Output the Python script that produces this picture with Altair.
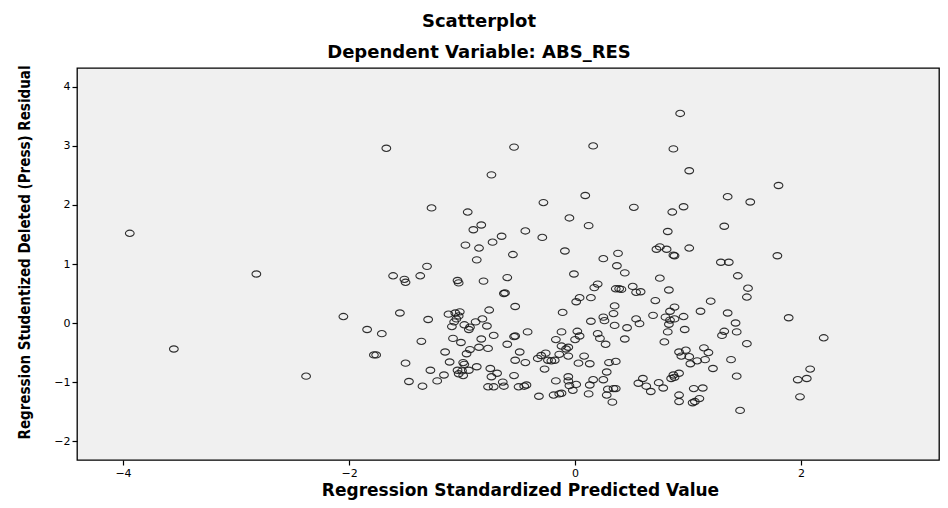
import altair as alt
import pandas as pd

xs = [
    -3.94, -3.55, -2.82, -2.38,
    -1.67, -0.54, 0.16, -0.74, -1.27, -0.95, -0.28, 0.09, -0.05, 0.12, -0.83, -0.90, -0.44, -0.65, -0.73, -0.29, -0.97, -0.85, -0.55, -0.09, 0.25, 0.38, -0.87,
    0.93, 0.87, 1.01, 1.80, 1.35, 1.55, 0.52, 0.96, 0.86, 1.32, 0.82, 0.75, 0.72, 0.81, 1.01, 0.87, 0.88, 1.79, 1.29, 1.36,
    0.37, -1.31, -1.61, -1.51, -1.50, -1.37, -1.04, -1.03, -0.81, -0.60, -0.01, 0.20, 0.17, 0.36, 0.39, -0.63, -0.62, 0.04, 0.01, 0.14, -0.53, 0.35,
    -2.05, -1.55, -1.30, -1.84, -1.71, -1.78, -1.76, -1.36, -1.50, -1.47, -1.35, -1.22, -1.16, -1.28, -1.15, -1.11, -1.08, -1.01,
    -1.12, -1.06, -1.02, -1.03, -1.05, -1.09, -1.07, -0.98, -0.93, -0.94, -0.88, -0.82, -0.76, -0.78, -0.83, -0.72, -0.85, -0.77, -0.93, -0.96,
    -0.60, -0.54, -0.53, -0.42, -0.49, -0.53, -0.44, -0.99, -0.98, -1.00, -1.03, -0.99, -1.04, -0.94, -0.87, -0.75, -0.74, -0.69, -0.54,
    -0.77, -0.72, -0.64, -0.63, -0.50, -0.45, -0.43, -0.32, -0.19, -0.14, -0.12, -0.17, -0.06, -0.06, -0.05, 0.01, -0.02, 0.13, 0.16, 0.12,
    0.25, 0.28, 0.29, 0.34, 0.36, 0.28, 0.33, -0.27, -0.33, -0.30, -0.26, -0.24, -0.18, -0.14, -0.21, -0.12, -0.08, -0.06, -0.06,
    -0.12, -0.17, 0.02, 0.04, 0.00, 0.08, 0.03, 0.13, -0.11, 0.14, 0.25, 0.26, 0.34, 0.35, 0.20, 0.22, 0.27, 0.30, 0.36,
    1.44, 0.44, 0.75, 0.41, 0.51, 0.54, 0.58, 0.83, 1.53, 1.52, 0.71, 1.20, 0.69, 0.54, 0.57, 0.46, 0.80, 0.84, 0.88, 0.84, 0.88, 0.83, 0.82,
    0.96, 0.97, 1.11, 1.35, 1.42, 1.32, 1.30, 1.43, 1.52, 1.89, 2.20, 0.44, 0.79, 0.92, 0.98, 0.94, 1.01, 1.08, 1.02, 1.14, 1.18, 1.15,
    1.22, 1.38, 1.43, 0.60, 0.56, 0.63, 0.67, 0.74, 0.78, 0.85, 0.87, 0.92, 0.88, 0.92, 0.92, 1.04, 1.06, 1.10, 1.05, 1.13, 1.46,
    2.08, 2.05, 1.97, 1.99,
]
ys = [
    1.52, -0.44, 0.83, -0.90,
    2.96, 2.98, 3.00, 2.51, 1.95, 1.88, 2.04, 2.16, 1.78, 1.65, 1.66, 1.58, 1.56, 1.47, 1.37, 1.45, 1.32, 1.27, 1.16, 1.22, 1.09, 1.18, 1.07,
    3.55, 2.95, 2.58, 2.33, 2.14, 2.05, 1.96, 1.97, 1.88, 1.64, 1.55, 1.29, 1.25, 1.25, 1.27, 1.15, 1.14, 1.14, 1.03, 1.03,
    0.97, 0.96, 0.80, 0.74, 0.69, 0.80, 0.72, 0.68, 0.71, 0.77, 0.83, 0.66, 0.60, 0.58, 0.58, 0.50, 0.51, 0.43, 0.36, 0.43, 0.28, 0.29,
    0.11, 0.17, 0.06, -0.11, -0.18, -0.54, -0.54, -0.31, -0.68, -0.99, -1.07, -0.98, -0.88, -0.80, -0.49, -0.66, -0.26, -0.33,
    0.15, 0.17, 0.19, 0.12, 0.07, -0.06, 0.02, -0.03, -0.07, -0.11, 0.02, 0.07, 0.22, -0.05, -0.27, -0.21, -0.41, -0.43, -0.45, -0.52,
    -0.36, -0.23, -0.22, -0.15, -0.49, -0.63, -0.67, -0.67, -0.70, -0.81, -0.86, -0.89, -0.80, -0.80, -0.74, -0.77, -0.91, -0.85, -0.89,
    -1.08, -1.08, -1.00, -1.07, -1.08, -1.07, -1.05, -1.24, -1.22, -1.20, -1.19, -0.98, -0.91, -0.98, -1.06, -1.04, -1.14, -1.05, -0.96, -1.20,
    -0.96, -0.83, -1.12, -1.11, -1.11, -1.22, -1.34, -0.78, -0.60, -0.55, -0.51, -0.63, -0.63, -0.53, -0.64, -0.39, -0.44, -0.56, -0.41,
    -0.15, -0.28, -0.14, -0.22, -0.28, -0.56, -0.68, -0.69, 0.18, 0.03, 0.10, 0.04, 0.16, -0.04, -0.18, -0.26, -0.36, -0.67, -0.65,
    0.80, 0.85, 0.76, 0.57, 0.62, 0.52, 0.53, 0.56, 0.59, 0.44, 0.38, 0.37, 0.13, 0.07, -0.01, -0.08, 0.10, 0.20, 0.27, 0.05, 0.07, -0.02, -0.15,
    0.11, -0.11, 0.20, 0.17, 0.00, -0.14, -0.21, -0.15, -0.35, 0.09, -0.25, -0.27, -0.32, -0.49, -0.46, -0.56, -0.57, -0.64, -0.69, -0.42, -0.50, -0.62,
    -0.77, -0.62, -0.90, -0.94, -1.02, -1.07, -1.16, -1.01, -1.10, -0.94, -0.88, -0.85, -0.92, -1.22, -1.33, -1.35, -1.33, -1.28, -1.11, -1.10, -1.48,
    -0.78, -0.94, -0.96, -1.25,
]

x_ticks = [-4, -2, 0, 2]
y_ticks = [-2, -1, 0, 1, 2, 3, 4]
main_title = ["Scatterplot"]
sub_title = ["Dependent Variable: ABS_RES"]

df = pd.DataFrame({"x": xs, "y": ys})

wide = "'DejaVu Sans', 'Liberation Sans'"
narrow = "'DejaVu Sans Condensed', 'Liberation Sans Narrow', 'Liberation Sans'"
ellipse = "M -1 0 A 1 0.72 0 1 0 1 0 A 1 0.72 0 1 0 -1 0 Z"

points = alt.Chart(df).mark_point(
    shape=ellipse, filled=False, size=76, stroke="#1a1a1a", strokeWidth=1.1, opacity=0.9
).encode(
    x=alt.X("x:Q",
            scale=alt.Scale(domain=[-4.407, 3.22], nice=False, zero=False),
            axis=alt.Axis(values=x_ticks, grid=False, title="Regression Standardized Predicted Value",
                          titleX=443, titleY=35, titleBaseline="alphabetic", titleAnchor="start", titleAlign="center",
                          titleFont=wide, titleFontSize=17)),
    y=alt.Y("y:Q",
            scale=alt.Scale(domain=[-2.32, 4.32], nice=False, zero=False),
            axis=alt.Axis(values=y_ticks, grid=False, title="Regression Studentized Deleted (Press) Residual",
                          titleX=-53, titleY=184, titleAngle=-90, titleBaseline="middle", titleAlign="center",
                          titleFont=narrow, titleFontSize=15)),
)

t1 = alt.Chart(pd.DataFrame({"t": main_title})).mark_text(
    font=wide, fontSize=18, fontWeight="bold", color="#000", baseline="middle", align="center"
).encode(text="t:N", x=alt.value(402), y=alt.value(-46))

t2 = alt.Chart(pd.DataFrame({"t": sub_title})).mark_text(
    font=wide, fontSize=18, fontWeight="bold", color="#000", baseline="middle", align="center"
).encode(text="t:N", x=alt.value(402), y=alt.value(-15))

chart = alt.layer(points, t1, t2).properties(
    width=862, height=392, background="white",
    autosize=alt.AutoSizeParams(type="none"),
    padding={"left": 69, "top": 60, "right": 1, "bottom": 40},
).configure_view(
    fill="#F0F0F0", stroke="#000", strokeWidth=1.3
).configure_axis(
    grid=False, domain=False, ticks=True, tickSize=5, tickWidth=1.2, tickColor="#000",
    labelFont=wide, labelFontSize=11, labelColor="#000", labelPadding=2,
    titleFontWeight="bold", titleColor="#000",
)

chart.save("out.html", embed_options={"renderer": "svg", "actions": False})
